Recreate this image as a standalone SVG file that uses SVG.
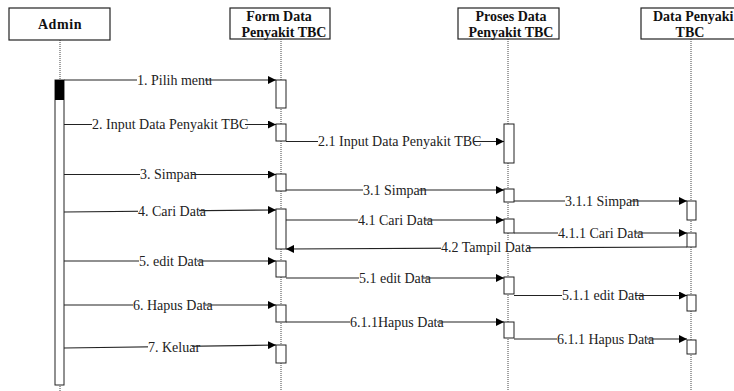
<svg xmlns="http://www.w3.org/2000/svg" width="734" height="391" viewBox="0 0 734 391">
<defs>
<style>
.box{fill:#fff;stroke:#222;stroke-width:1.2}
.hd{font-family:"Liberation Serif","Times New Roman",serif;font-weight:bold;font-size:14px;fill:#111;text-anchor:middle}
.life{stroke:#444;stroke-width:1;stroke-dasharray:1,1;fill:none}
.act{fill:#fff;stroke:#222;stroke-width:1}
.msg{stroke:#222;stroke-width:1.2;fill:none;marker-end:url(#ah)}
.lb{font-family:"Liberation Serif","Times New Roman",serif;font-size:14px;fill:#222}
.bg{fill:#fff}
</style>
<marker id="ah" viewBox="0 0 10 10" refX="10" refY="5" markerWidth="8" markerHeight="8" markerUnits="userSpaceOnUse" orient="auto">
<path d="M0,0 L10,5 L0,10 Z" fill="#000"/>
</marker>
</defs>
<rect width="734" height="391" fill="#fff"/>

<g id="admin">
<line class="life" x1="60" y1="40" x2="60" y2="391"/>
<rect class="box" x="9" y="8" width="101" height="32"/>
<text class="hd" x="60" y="29" letter-spacing="0.6">Admin</text>
<rect class="act" x="55" y="80" width="9" height="305"/>
<rect x="55" y="80" width="9" height="20" fill="#000"/>
</g>

<g id="form">
<line class="life" x1="281" y1="39" x2="281" y2="391"/>
<rect class="box" x="230" y="8" width="100" height="31"/>
<text class="hd" x="279" y="21">Form Data</text>
<text class="hd" x="284" y="37">Penyakit TBC</text>
<rect class="act" x="276" y="80" width="10" height="28"/>
<rect class="act" x="276" y="124" width="10" height="17"/>
<rect class="act" x="276" y="174" width="10" height="17"/>
<rect class="act" x="276" y="209" width="10" height="40"/>
<rect class="act" x="276" y="261" width="10" height="16"/>
<rect class="act" x="276" y="305" width="10" height="17"/>
<rect class="act" x="276" y="345" width="10" height="18"/>
</g>

<g id="proses">
<line class="life" x1="508" y1="39" x2="508" y2="391"/>
<rect class="box" x="458" y="8" width="101" height="31"/>
<text class="hd" x="511" y="21">Proses Data</text>
<text class="hd" x="511" y="37">Penyakit TBC</text>
<rect class="act" x="504" y="124" width="10" height="39"/>
<rect class="act" x="504" y="189" width="10" height="13"/>
<rect class="act" x="504" y="219" width="10" height="14"/>
<rect class="act" x="504" y="277" width="10" height="17"/>
<rect class="act" x="504" y="322" width="10" height="16"/>
</g>

<g id="data">
<line class="life" x1="691" y1="39" x2="691" y2="391"/>
<rect class="box" x="641" y="8" width="110" height="31"/>
<text class="hd" x="653" y="21" style="text-anchor:start">Data Penyaki</text>
<text class="hd" x="690" y="37">TBC</text>
<rect class="act" x="687" y="201" width="9" height="19"/>
<rect class="act" x="687" y="233" width="9" height="14"/>
<rect class="act" x="687" y="295" width="9" height="16"/>
<rect class="act" x="687" y="340" width="9" height="14"/>
</g>

<g id="connectors" font-family="'Liberation Serif', 'Times New Roman', serif">
<line class="msg" x1="64" y1="80" x2="276" y2="80"/>
<rect class="bg" x="137" y="74" width="68" height="12"/>
<text class="lb" x="137" y="85">1. Pilih menu</text>

<line class="msg" x1="64" y1="124.5" x2="276" y2="124.5"/>
<rect class="bg" x="92" y="118" width="153" height="12"/>
<text class="lb" x="92" y="129">2. Input Data Penyakit TBC</text>

<line class="msg" x1="286" y1="141.5" x2="504" y2="141.5"/>
<rect class="bg" x="318" y="135" width="156" height="12"/>
<text class="lb" x="318" y="146">2.1 Input Data Penyakit TBC</text>

<line class="msg" x1="64" y1="174.5" x2="276" y2="174.5"/>
<rect class="bg" x="140" y="168" width="52" height="12"/>
<text class="lb" x="140" y="179">3. Simpan</text>

<line class="msg" x1="286" y1="190" x2="504" y2="190"/>
<rect class="bg" x="363" y="184" width="56" height="12"/>
<text class="lb" x="363" y="194.5">3.1 Simpan</text>

<line class="msg" x1="514" y1="201" x2="687" y2="201"/>
<rect class="bg" x="565" y="195" width="65" height="12"/>
<text class="lb" x="565" y="205.5">3.1.1 Simpan</text>

<line class="msg" x1="64" y1="212" x2="276" y2="210"/>
<rect class="bg" x="138" y="205" width="61" height="12"/>
<text class="lb" x="138" y="215.5">4. Cari Data</text>

<line class="msg" x1="286" y1="220" x2="504" y2="220"/>
<rect class="bg" x="358" y="214" width="67" height="12"/>
<text class="lb" x="358" y="224.5">4.1 Cari Data</text>

<line class="msg" x1="514" y1="233" x2="687" y2="233"/>
<rect class="bg" x="558" y="227" width="77" height="12"/>
<text class="lb" x="558" y="237.5">4.1.1 Cari Data</text>

<line class="msg" x1="687" y1="247" x2="286" y2="249"/>
<rect class="bg" x="441" y="241" width="86" height="12"/>
<text class="lb" x="441" y="251.5">4.2 Tampil Data</text>

<line class="msg" x1="64" y1="261" x2="276" y2="261"/>
<rect class="bg" x="139" y="255" width="58" height="12"/>
<text class="lb" x="139" y="265.5">5. edit Data</text>

<line class="msg" x1="286" y1="278" x2="504" y2="278"/>
<rect class="bg" x="359" y="272" width="64" height="12"/>
<text class="lb" x="359" y="282.5">5.1 edit Data</text>

<line class="msg" x1="514" y1="295.5" x2="687" y2="295.5"/>
<rect class="bg" x="562" y="289" width="73" height="12"/>
<text class="lb" x="562" y="300">5.1.1 edit Data</text>

<line class="msg" x1="64" y1="305" x2="276" y2="305"/>
<rect class="bg" x="133" y="299" width="72" height="12"/>
<text class="lb" x="133" y="309.5">6. Hapus Data</text>

<line class="msg" x1="286" y1="322" x2="504" y2="322"/>
<rect class="bg" x="350" y="316" width="87" height="12"/>
<text class="lb" x="350" y="326.5">6.1.1Hapus Data</text>

<line class="msg" x1="514" y1="339" x2="687" y2="339"/>
<rect class="bg" x="557" y="333" width="90" height="12"/>
<text class="lb" x="557" y="343.5">6.1.1 Hapus Data</text>

<line class="msg" x1="64" y1="348" x2="276" y2="345"/>
<rect class="bg" x="148" y="341" width="44" height="12"/>
<text class="lb" x="148" y="351.5">7. Keluar</text>
</g>
</svg>
